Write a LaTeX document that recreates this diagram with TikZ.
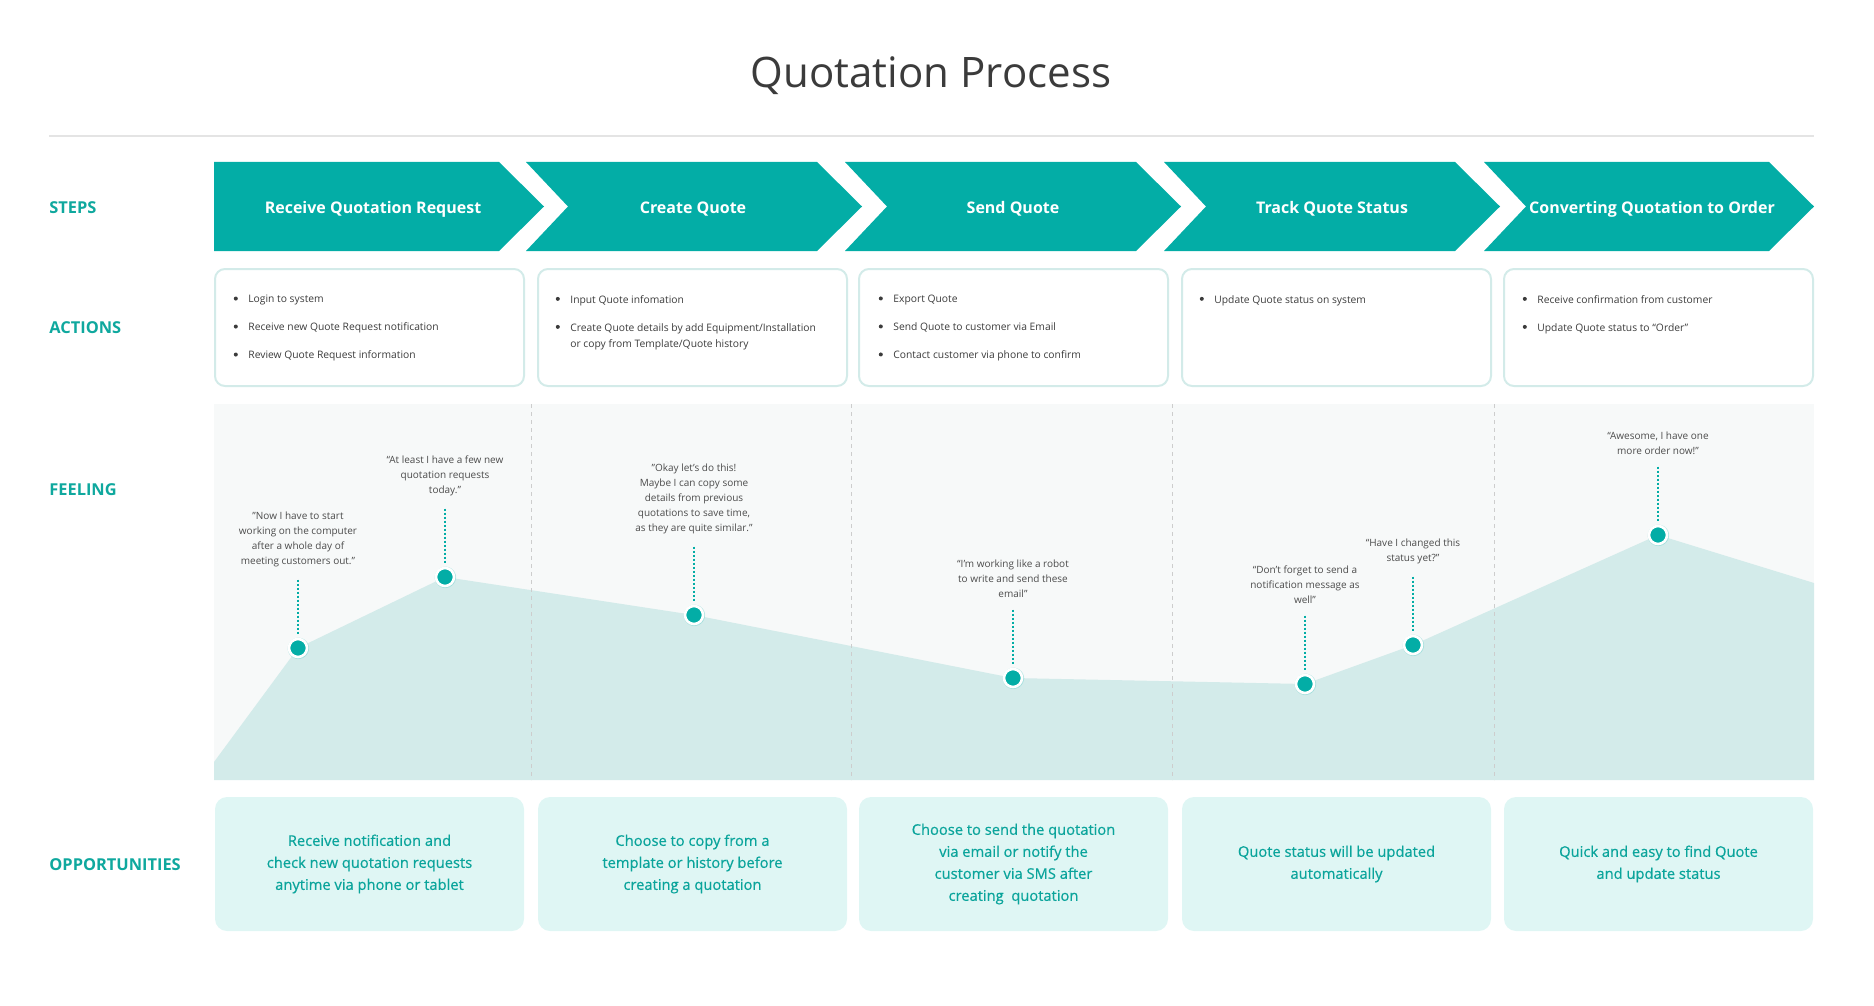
\documentclass[tikz,border=0pt]{standalone}
\usepackage{fontspec}
\setmainfont{Open Sans}
\newfontfamily\oppfont[FakeBold=0.5]{Open Sans}
\usetikzlibrary{positioning,shadows}
\definecolor{qteal}{HTML}{03ADA6}
\definecolor{qlabel}{HTML}{0FA89E}
\definecolor{qarea}{HTML}{D3EBEA}
\definecolor{qpanel}{HTML}{F7F9F9}
\definecolor{qedge}{HTML}{D3EBE9}
\definecolor{qopp}{HTML}{DFF6F4}
\definecolor{qopptext}{HTML}{0AA49B}
\definecolor{qrule}{HTML}{E4E4E4}
\definecolor{qsep}{HTML}{CDCDCD}
\definecolor{qtext}{HTML}{3B3B3B}
\def\stepchev(#1:#2:#3){\fill[qteal] (#1,162) -- (#2,162) -- (#2+45,206.5) -- (#2,251) -- (#1,251) -- (#1+#3,206.5) -- cycle;}
\newcommand{\actbul}{\makebox[7.5pt][l]{\hspace*{0.2pt}\raisebox{1.2pt}{\tikz\fill[qtext] (0,0) circle (1pt);}}}

\begin{document}
\begin{tikzpicture}[x=0.5pt, y=-0.5pt,
		rowlabel/.style={anchor=west, inner sep=0, font=\fontsize{8.2}{10}\selectfont\bfseries, text=qlabel},
		steptext/.style={font=\fontsize{8}{10}\selectfont\bfseries, text=white},
		acttext/.style={anchor=north west, inner sep=0, align=left, font=\fontsize{5.15}{8}\selectfont, text=qtext},
		saying/.style={align=center, inner sep=0, font=\fontsize{5}{7.5}\selectfont, text=black!70},
		feeldot/.style={circle, fill=qteal, draw=white, line width=1.3pt, minimum size=9pt, inner sep=0, circular glow={fill=qteal!45}},
		feellink/.style={qteal, line width=1pt, dash pattern=on 1pt off 1pt, shorten <=6pt, shorten >=1.5pt},
		oppbox/.style={fill=qopp, rounded corners=6pt, minimum width=154.5pt, minimum height=67pt, align=center, font=\oppfont\fontsize{7.35}{11}\selectfont, text=qopptext}]
		%%%%% START %%%%%
		
		\useasboundingbox (0,0) rectangle (1874,1006);
		
		\node[font=\fontsize{21}{25}\selectfont, text=qtext] (title) at (931,76) {Quotation Process};
		\draw[qrule, line width=1pt] (49,136) -- (1814,136);
		
		\node[rowlabel] (lsteps) at (49,208) {STEPS};
		\node[rowlabel] (lactions) at (49,328) {ACTIONS};
		\node[rowlabel] (lfeeling) at (49,490) {FEELING};
		\node[rowlabel] (lopp) at (49,865) {OPPORTUNITIES};
		
		%%%%% steps
		\stepchev(214:499:0)
		\stepchev(526:817:42)
		\stepchev(845:1136:42)
		\stepchev(1164:1455:42)
		\stepchev(1484:1769:42)
		
		\node[steptext] (step1) at (373,209) {Receive Quotation Request};
		\node[steptext] (step2) at (693,209) {Create Quote};
		\node[steptext] (step3) at (1013,209) {Send Quote};
		\node[steptext] (step4) at (1332,209) {Track Quote Status};
		\node[steptext] (step5) at (1652,209) {Converting Quotation to Order};
		
		%%%%% actions
		\draw[qedge, line width=1pt, rounded corners=5pt] (215,269) rectangle (524,386);
		\draw[qedge, line width=1pt, rounded corners=5pt] (538,269) rectangle (847,386);
		\draw[qedge, line width=1pt, rounded corners=5pt] (859,269) rectangle (1168,386);
		\draw[qedge, line width=1pt, rounded corners=5pt] (1182,269) rectangle (1491,386);
		\draw[qedge, line width=1pt, rounded corners=5pt] (1504,269) rectangle (1813,386);
		
		\node[acttext] (act1) at (233,295) {\actbul Login to system\\[6pt]\actbul Receive new Quote Request notification\\[6pt]\actbul Review Quote Request information};
		\node[acttext] (act2) at (555,295) {\actbul Input Quote infomation\\[6pt]\actbul Create Quote details by add Equipment/Installation\\\hspace*{7.5pt}or copy from Template/Quote history};
		\node[acttext] (act3) at (878,295) {\actbul Export Quote\\[6pt]\actbul Send Quote to customer via Email\\[6pt]\actbul Contact customer via phone to confirm};
		\node[acttext] (act4) at (1199,295) {\actbul Update Quote status on system};
		\node[acttext] (act5) at (1522,295) {\actbul Receive confirmation from customer\\[6pt]\actbul Update Quote status to “Order”};
		
		%%%%% feeling
		\fill[qpanel] (214,404) rectangle (1814,780);
		
		\coordinate (p1) at (298,648);
		\coordinate (p2) at (445,577);
		\coordinate (p3) at (694,615);
		\coordinate (p4) at (1013,678);
		\coordinate (p5) at (1305,684);
		\coordinate (p6) at (1413,645);
		\coordinate (p7) at (1658,535);
		\fill[qarea] (214,780) -- (214,762) -- (p1) -- (p2) -- (p3) -- (p4) -- (p5) -- (p6) -- (p7) -- (1814,583) -- (1814,780) -- cycle;
		
		\draw[qsep, line width=0.5pt, dash pattern=on 2pt off 2pt] (531,404) -- (531,780);
		\draw[qsep, line width=0.5pt, dash pattern=on 2pt off 2pt] (851,404) -- (851,780);
		\draw[qsep, line width=0.5pt, dash pattern=on 2pt off 2pt] (1172,404) -- (1172,780);
		\draw[qsep, line width=0.5pt, dash pattern=on 2pt off 2pt] (1494,404) -- (1494,780);
		
		\node[feeldot] (d1) at (p1) {};
		\node[feeldot] (d2) at (p2) {};
		\node[feeldot] (d3) at (p3) {};
		\node[feeldot] (d4) at (p4) {};
		\node[feeldot] (d5) at (p5) {};
		\node[feeldot] (d6) at (p6) {};
		\node[feeldot] (d7) at (p7) {};
		
		\node[saying, above=35pt of d1] (q1) {"Now I have to start\\working on the computer\\after a whole day of\\meeting customers out."};
		\node[saying, above=35pt of d2] (q2) {“At least I have a few new\\quotation requests\\today.”};
		\node[saying, above=35pt of d3] (q3) {"Okay let’s do this!\\Maybe I can copy some\\details from previous\\quotations to save time,\\as they are quite similar."};
		\node[saying, above=35pt of d4] (q4) {“I'm working like a robot\\to write and send these\\email”};
		\node[saying, above=35pt of d5] (q5) {“Don't forget to send a\\notification message as\\well”};
		\node[saying, above=35pt of d6] (q6) {“Have I changed this\\status yet?”};
		\node[saying, above=35pt of d7] (q7) {“Awesome, I have one\\more order now!”};
		
		\draw[feellink] (q1) -- (d1);
		\draw[feellink] (q2) -- (d2);
		\draw[feellink] (q3) -- (d3);
		\draw[feellink] (q4) -- (d4);
		\draw[feellink] (q5) -- (d5);
		\draw[feellink] (q6) -- (d6);
		\draw[feellink] (q7) -- (d7);
		
		%%%%% opportunities
		\node[oppbox] (opp1) at (369.5,864) {Receive notification and\\check new quotation requests\\anytime via phone or tablet};
		\node[oppbox] (opp2) at (692.5,864) {Choose to copy from a\\template or history before\\creating a quotation};
		\node[oppbox] (opp3) at (1013.5,864) {Choose to send the quotation\\via email or notify the\\customer via SMS after\\creating~ quotation};
		\node[oppbox] (opp4) at (1336.5,864) {Quote status will be updated\\automatically};
		\node[oppbox] (opp5) at (1658.5,864) {Quick and easy to find Quote\\and update status};
		
		%%%%% END %%%%%
	\end{tikzpicture}
\end{document}
